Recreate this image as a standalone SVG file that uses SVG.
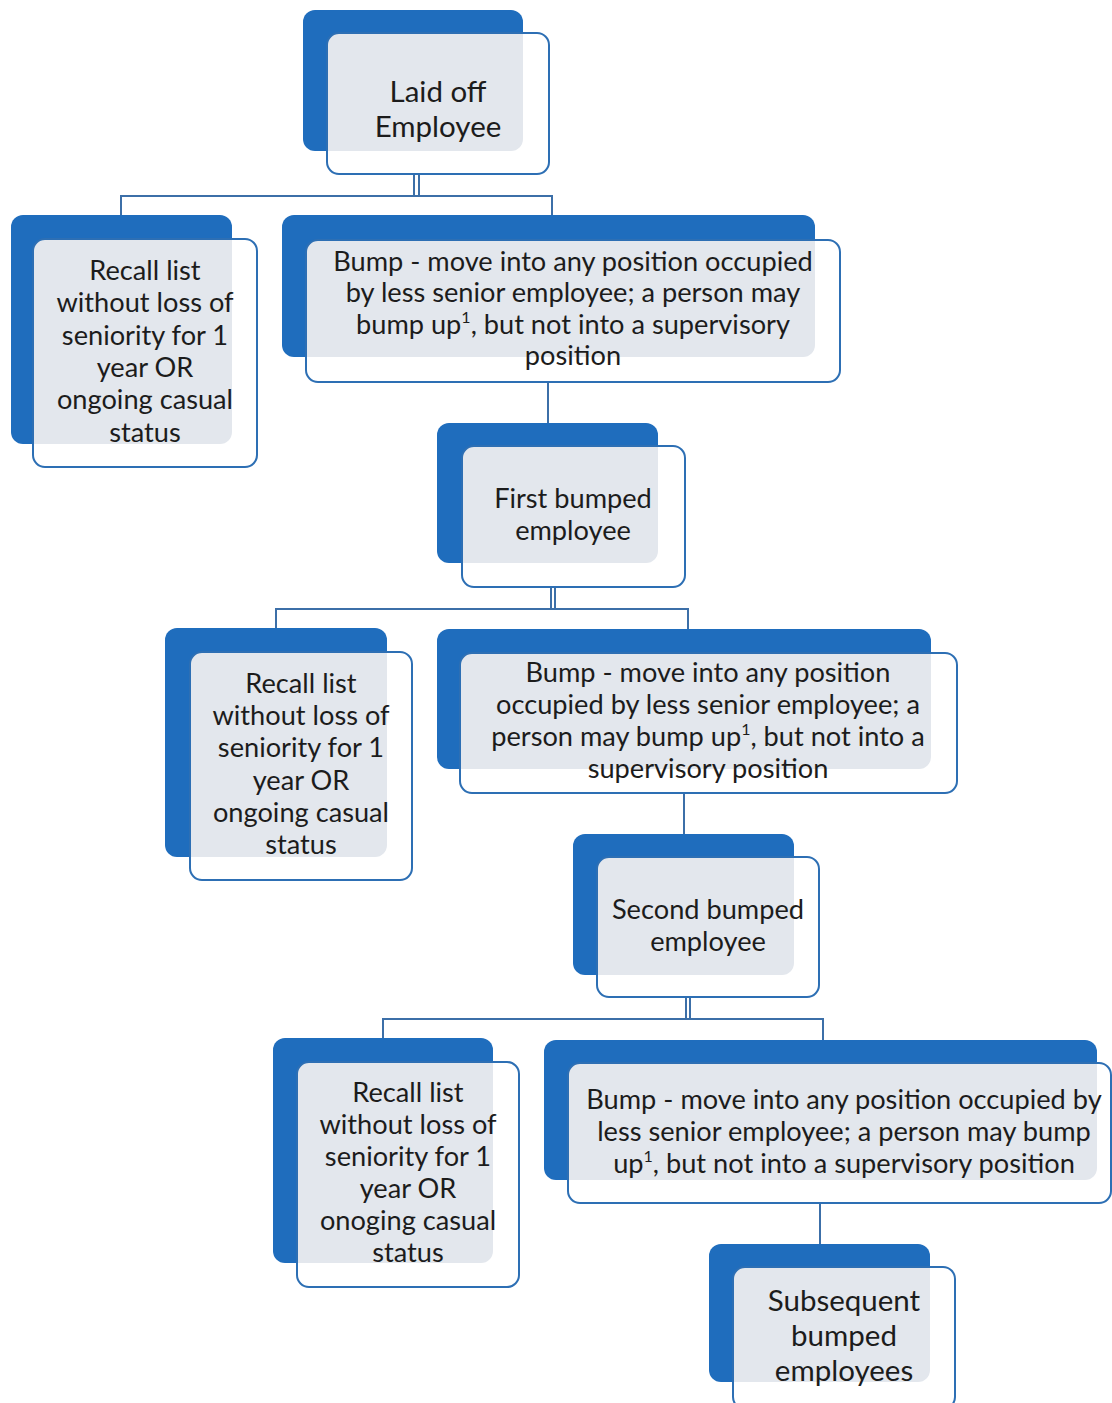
<svg xmlns="http://www.w3.org/2000/svg" width="1112" height="1403" viewBox="0 0 1112 1403">
<style>
.back{fill:#1f6dbd}
.front{fill:#ffffff}
.ov{fill:#e3e7ed}
.frame{fill:none;stroke:#2d6fb4;stroke-width:2}
.t{font-family:Lato,"Open Sans","Liberation Sans",sans-serif;font-size:27.2px;fill:#1c1c1c;text-anchor:middle}
.big{font-size:29.5px}
.sup{font-size:16px}
.c{stroke:#3c6fa8;stroke-width:2;fill:none}
</style>
<rect width="1112" height="1403" fill="#ffffff"/>
<g id="connectors">
<path class="c" d="M414 174V196M419 174V196M121 215V196H552V215"/>
<path class="c" d="M548 382V423"/>
<path class="c" d="M551 587V609M555 587V609M276 628V609H688V629"/>
<path class="c" d="M684 793V834"/>
<path class="c" d="M686 997V1019M690 997V1019M383 1038V1019H823V1040"/>
<path class="c" d="M820 1203V1244"/>
</g>
<g id="n1">
<rect class="back" x="303" y="10" width="220" height="141" rx="12"/>
<rect class="front" x="327" y="33" width="222" height="141" rx="12"/>
<path class="ov" d="M339 33H523V139A12 12 0 0 1 511 151H327V45A12 12 0 0 1 339 33Z"/>
<rect class="frame" x="327" y="33" width="222" height="141" rx="12"/>
<text class="t big" x="438" y="101.5">Laid off</text>
<text class="t big" x="438" y="137">Employee</text>
</g>
<g id="n2">
<rect class="back" x="11" y="215" width="221" height="229" rx="12"/>
<rect class="front" x="33" y="239" width="224" height="228" rx="12"/>
<path class="ov" d="M45 239H232V432A12 12 0 0 1 220 444H33V251A12 12 0 0 1 45 239Z"/>
<rect class="frame" x="33" y="239" width="224" height="228" rx="12"/>
<text class="t" x="145" y="280">Recall list</text>
<text class="t" x="145" y="312.3">without loss of</text>
<text class="t" x="145" y="344.6">seniority for 1</text>
<text class="t" x="145" y="376.9">year OR</text>
<text class="t" x="145" y="409.2">ongoing casual</text>
<text class="t" x="145" y="441.5">status</text>
</g>
<g id="n3">
<rect class="back" x="282" y="215" width="533" height="142" rx="12"/>
<rect class="front" x="306" y="240" width="534" height="142" rx="12"/>
<path class="ov" d="M318 240H815V345A12 12 0 0 1 803 357H306V252A12 12 0 0 1 318 240Z"/>
<rect class="frame" x="306" y="240" width="534" height="142" rx="12"/>
<text class="t" x="573" y="270.5">Bump - move into any position occupied</text>
<text class="t" x="573" y="302">by less senior employee; a person may</text>
<text class="t" x="573" y="333.5">bump up<tspan class="sup" dy="-11">1</tspan><tspan dy="11">, but not into a supervisory</tspan></text>
<text class="t" x="573" y="365">position</text>
</g>
<g id="n4">
<rect class="back" x="437" y="423" width="221" height="140" rx="12"/>
<rect class="front" x="462" y="446" width="223" height="141" rx="12"/>
<path class="ov" d="M474 446H658V551A12 12 0 0 1 646 563H462V458A12 12 0 0 1 474 446Z"/>
<rect class="frame" x="462" y="446" width="223" height="141" rx="12"/>
<text class="t" x="573" y="508">First bumped</text>
<text class="t" x="573" y="540">employee</text>
</g>
<g id="n5">
<rect class="back" x="165" y="628" width="222" height="229" rx="12"/>
<rect class="front" x="190" y="652" width="222" height="228" rx="12"/>
<path class="ov" d="M202 652H387V845A12 12 0 0 1 375 857H190V664A12 12 0 0 1 202 652Z"/>
<rect class="frame" x="190" y="652" width="222" height="228" rx="12"/>
<text class="t" x="301" y="693">Recall list</text>
<text class="t" x="301" y="725.2">without loss of</text>
<text class="t" x="301" y="757.4">seniority for 1</text>
<text class="t" x="301" y="789.6">year OR</text>
<text class="t" x="301" y="821.8">ongoing casual</text>
<text class="t" x="301" y="854">status</text>
</g>
<g id="n6">
<rect class="back" x="437" y="629" width="494" height="140" rx="12"/>
<rect class="front" x="460" y="653" width="497" height="140" rx="12"/>
<path class="ov" d="M472 653H931V757A12 12 0 0 1 919 769H460V665A12 12 0 0 1 472 653Z"/>
<rect class="frame" x="460" y="653" width="497" height="140" rx="12"/>
<text class="t" x="708" y="681.7">Bump - move into any position</text>
<text class="t" x="708" y="713.7">occupied by less senior employee; a</text>
<text class="t" x="708" y="745.7">person may bump up<tspan class="sup" dy="-11">1</tspan><tspan dy="11">, but not into a</tspan></text>
<text class="t" x="708" y="777.7">supervisory position</text>
</g>
<g id="n7">
<rect class="back" x="573" y="834" width="221" height="141" rx="12"/>
<rect class="front" x="597" y="857" width="222" height="140" rx="12"/>
<path class="ov" d="M609 857H794V963A12 12 0 0 1 782 975H597V869A12 12 0 0 1 609 857Z"/>
<rect class="frame" x="597" y="857" width="222" height="140" rx="12"/>
<text class="t" x="708" y="919">Second bumped</text>
<text class="t" x="708" y="951">employee</text>
</g>
<g id="n8">
<rect class="back" x="273" y="1038" width="220" height="225" rx="12"/>
<rect class="front" x="297" y="1062" width="222" height="225" rx="12"/>
<path class="ov" d="M309 1062H493V1251A12 12 0 0 1 481 1263H297V1074A12 12 0 0 1 309 1062Z"/>
<rect class="frame" x="297" y="1062" width="222" height="225" rx="12"/>
<text class="t" x="408" y="1101.7">Recall list</text>
<text class="t" x="408" y="1133.7">without loss of</text>
<text class="t" x="408" y="1165.7">seniority for 1</text>
<text class="t" x="408" y="1197.7">year OR</text>
<text class="t" x="408" y="1229.7">onoging casual</text>
<text class="t" x="408" y="1261.7">status</text>
</g>
<g id="n9">
<rect class="back" x="544" y="1040" width="553" height="140" rx="12"/>
<rect class="front" x="568" y="1063" width="543" height="140" rx="12"/>
<path class="ov" d="M580 1063H1097V1168A12 12 0 0 1 1085 1180H568V1075A12 12 0 0 1 580 1063Z"/>
<rect class="frame" x="568" y="1063" width="543" height="140" rx="12"/>
<text class="t" x="844" y="1108.5">Bump - move into any position occupied by</text>
<text class="t" x="844" y="1140.5">less senior employee; a person may bump</text>
<text class="t" x="844" y="1172.5">up<tspan class="sup" dy="-11">1</tspan><tspan dy="11">, but not into a supervisory position</tspan></text>
</g>
<g id="n10">
<rect class="back" x="709" y="1244" width="221" height="138" rx="12"/>
<rect class="front" x="733" y="1267" width="222" height="142" rx="12"/>
<path class="ov" d="M745 1267H930V1370A12 12 0 0 1 918 1382H733V1279A12 12 0 0 1 745 1267Z"/>
<rect class="frame" x="733" y="1267" width="222" height="142" rx="12"/>
<text class="t big" x="844" y="1310.5">Subsequent</text>
<text class="t big" x="844" y="1345.5">bumped</text>
<text class="t big" x="844" y="1380.5">employees</text>
</g>
</svg>
